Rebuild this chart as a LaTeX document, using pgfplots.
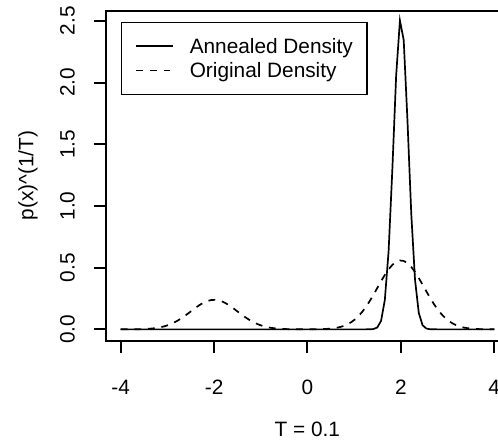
\documentclass[border=0pt]{standalone}
\usepackage{fontspec}
\setmainfont{Liberation Sans}
\usepackage{pgfplots}
\usepackage{pgfplotstable}
\pgfplotsset{compat=1.18}
\pgfplotstableread{
x orig ann
-4.0000 0.00010 0
-3.9192 0.00015 0
-3.8384 0.00028 0
-3.7576 0.00050 0
-3.6768 0.00087 0
-3.5960 0.00147 0
-3.5152 0.00243 0
-3.4343 0.00391 0
-3.3535 0.00614 0
-3.2727 0.00938 0
-3.1919 0.01397 0
-3.1111 0.02027 0
-3.0303 0.02864 0
-2.9495 0.03944 0
-2.8687 0.05293 0
-2.7879 0.06917 0
-2.7071 0.08806 0
-2.6263 0.10924 0
-2.5455 0.13203 0
-2.4646 0.15544 0
-2.3838 0.17830 0
-2.3030 0.19920 0
-2.2222 0.21685 0
-2.1414 0.22998 0
-2.0606 0.23761 0
-1.9798 0.23917 0
-1.8990 0.23453 0
-1.8182 0.22405 0
-1.7374 0.20853 0
-1.6566 0.18906 0
-1.5758 0.16701 0
-1.4949 0.14372 0
-1.4141 0.12047 0
-1.3333 0.09841 0
-1.2525 0.07830 0
-1.1717 0.06070 0
-1.0909 0.04584 0
-1.0101 0.03372 0
-0.9293 0.02417 0
-0.8485 0.01688 0
-0.7677 0.01148 0
-0.6869 0.00761 0
-0.6061 0.00491 0
-0.5253 0.00309 0
-0.4444 0.00189 0
-0.3636 0.00113 0
-0.2828 0.00066 0
-0.2020 0.00040 0
-0.1212 0.00028 0
-0.0404 0.00025 0
0.0404 0.00032 0
0.1212 0.00051 0
0.2020 0.00088 0
0.2828 0.00153 0
0.3636 0.00264 0
0.4444 0.00442 0
0.5253 0.00721 0
0.6061 0.01147 0
0.6869 0.01775 0
0.7677 0.02678 0
0.8485 0.03938 0
0.9293 0.05639 0
1.0101 0.07868 0
1.0909 0.10695 0
1.1717 0.14162 0
1.2525 0.18271 0
1.3333 0.22961 0.00035
1.4141 0.28110 0.00263
1.4949 0.33533 0.01536
1.5758 0.38968 0.06900
1.6566 0.44115 0.23850
1.7374 0.48657 0.63540
1.8182 0.52278 1.30250
1.8990 0.54724 2.05750
1.9798 0.55806 2.50250
2.0606 0.55443 2.34440
2.1414 0.53662 1.69130
2.2222 0.50599 0.93970
2.3030 0.46481 0.40190
2.3838 0.41603 0.13260
2.4646 0.36268 0.03370
2.5455 0.30806 0.00658
2.6263 0.25489 0.00099
2.7071 0.20547 0.00011
2.7879 0.16140 0
2.8687 0.12350 0
2.9495 0.09203 0
3.0303 0.06683 0
3.1111 0.04729 0
3.1919 0.03260 0
3.2727 0.02189 0
3.3535 0.01432 0
3.4343 0.00912 0
3.5152 0.00566 0
3.5960 0.00342 0
3.6768 0.00202 0
3.7576 0.00116 0
3.8384 0.00065 0
3.9192 0.00035 0
4.0000 0.00019 0
}\dens
\begin{document}
\begin{tikzpicture}[font=\fontsize{10.4pt}{12pt}\selectfont]
\clip (0,0) rectangle (249pt,220.5pt);
\begin{axis}[
  at={(52.9pt,50.15pt)}, anchor=south west,
  scale only axis, width=201.7pt, height=165pt,
  xmin=-4.32, xmax=4.32, ymin=-0.092, ymax=2.582,
  axis line style={line width=1pt},
  tick style={line width=1pt, black},
  tick align=outside, tick pos=left,
  major tick length=6pt,
  xtick={-4,-2,0,2,4}, xticklabels={-4,-2,0,2,4},
  ytick={0,0.5,1,1.5,2,2.5}, yticklabels={0.0,0.5,1.0,1.5,2.0,2.5},
  xticklabel style={anchor=north, yshift=-10pt},
  yticklabel style={xshift=-6pt, rotate=90, anchor=south},
  legend style={at={(axis description cs:0.0369,0.9667)}, anchor=north west,
    draw=black, line width=0.8pt, inner xsep=7pt, inner ysep=8.2pt,
    row sep=4.85pt, column sep=8pt,
    nodes={inner sep=0pt, text height=7.35pt, text depth=0pt}},
  legend cell align=left,
  legend image code/.code={\draw[#1] (0pt,0pt) -- (18.3pt,0pt);},
]
\addplot[black, line width=0.85pt] table[x=x,y=ann]{\dens};
\addlegendentry{Annealed Density}
\addplot[black, line width=0.85pt, dash pattern=on 3.4pt off 3.4pt] table[x=x,y=orig]{\dens};
\addlegendentry{Original Density}
\end{axis}
\node[rotate=90, anchor=base] at (16.75pt,132.65pt) {p(x)\textasciicircum(1/T)};
\node[anchor=base] at (153.7pt,2.15pt) {T = 0.1};
\end{tikzpicture}
\end{document}
